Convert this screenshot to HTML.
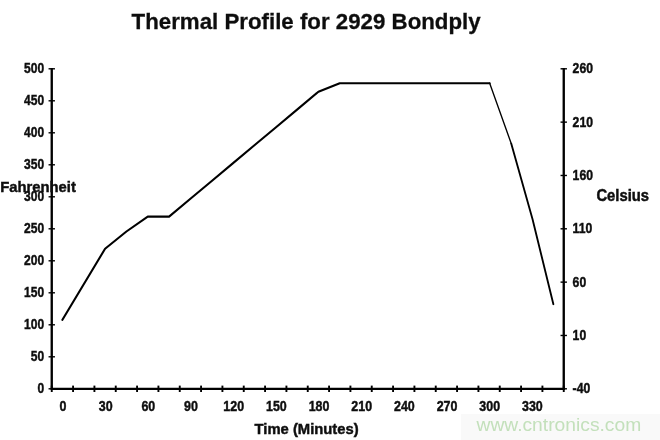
<!DOCTYPE html>
<html>
<head>
<meta charset="utf-8">
<title>Thermal Profile for 2929 Bondply</title>
<style>
html,body{margin:0;padding:0;background:#fff;}
body{width:660px;height:440px;overflow:hidden;position:relative;font-family:"Liberation Sans",sans-serif;}
svg{position:absolute;left:0;top:0;display:block;}
text{font-family:"Liberation Sans",sans-serif;fill:#111;}
.tick{font-size:12.2px;font-weight:bold;stroke:#111;stroke-width:0.4px;}
.ax{font-size:14.8px;font-weight:bold;stroke:#111;stroke-width:0.45px;}
.title{font-size:22.15px;font-weight:bold;stroke:#111;stroke-width:0.3px;}
.wm{font-size:19.25px;fill:#c3e0bb;}
</style>
</head>
<body>
<svg width="660" height="440" viewBox="0 0 660 440">
<defs><filter id="b" x="-5%" y="-5%" width="110%" height="110%"><feGaussianBlur stdDeviation="0.65"/></filter></defs>
<rect x="0" y="0" width="660" height="440" fill="#ffffff"/>
<rect x="461" y="414" width="199" height="26" fill="#f9f9f9"/>
<g filter="url(#b)">
<text class="title" transform="translate(131.60,29.30) scale(1.006,1.015)">Thermal Profile for 2929 Bondply</text>
<g stroke="#000" stroke-width="2.35" fill="none" stroke-linecap="butt">
<line x1="51.75" y1="68.10" x2="51.75" y2="389.80"/>
<line x1="563.75" y1="68.10" x2="563.75" y2="389.80"/>
<line x1="50.75" y1="388.80" x2="564.75" y2="388.80"/>
</g>
<g stroke="#000" stroke-width="1.4" fill="none">
<line x1="48.55" y1="388.80" x2="54.95" y2="388.80"/>
<line x1="48.55" y1="356.80" x2="54.95" y2="356.80"/>
<line x1="48.55" y1="324.80" x2="54.95" y2="324.80"/>
<line x1="48.55" y1="292.80" x2="54.95" y2="292.80"/>
<line x1="48.55" y1="260.80" x2="54.95" y2="260.80"/>
<line x1="48.55" y1="228.80" x2="54.95" y2="228.80"/>
<line x1="48.55" y1="196.80" x2="54.95" y2="196.80"/>
<line x1="48.55" y1="164.80" x2="54.95" y2="164.80"/>
<line x1="48.55" y1="132.80" x2="54.95" y2="132.80"/>
<line x1="48.55" y1="100.80" x2="54.95" y2="100.80"/>
<line x1="48.55" y1="68.80" x2="54.95" y2="68.80"/>
<line x1="560.55" y1="388.80" x2="566.95" y2="388.80"/>
<line x1="560.55" y1="335.47" x2="566.95" y2="335.47"/>
<line x1="560.55" y1="282.13" x2="566.95" y2="282.13"/>
<line x1="560.55" y1="228.80" x2="566.95" y2="228.80"/>
<line x1="560.55" y1="175.47" x2="566.95" y2="175.47"/>
<line x1="560.55" y1="122.13" x2="566.95" y2="122.13"/>
<line x1="560.55" y1="68.80" x2="566.95" y2="68.80"/>
</g>
<g stroke="#000" stroke-width="1.9" fill="none">
<line x1="51.75" y1="385.60" x2="51.75" y2="392.00"/>
<line x1="73.08" y1="385.60" x2="73.08" y2="392.00"/>
<line x1="94.42" y1="385.60" x2="94.42" y2="392.00"/>
<line x1="115.75" y1="385.60" x2="115.75" y2="392.00"/>
<line x1="137.08" y1="385.60" x2="137.08" y2="392.00"/>
<line x1="158.42" y1="385.60" x2="158.42" y2="392.00"/>
<line x1="179.75" y1="385.60" x2="179.75" y2="392.00"/>
<line x1="201.08" y1="385.60" x2="201.08" y2="392.00"/>
<line x1="222.42" y1="385.60" x2="222.42" y2="392.00"/>
<line x1="243.75" y1="385.60" x2="243.75" y2="392.00"/>
<line x1="265.08" y1="385.60" x2="265.08" y2="392.00"/>
<line x1="286.42" y1="385.60" x2="286.42" y2="392.00"/>
<line x1="307.75" y1="385.60" x2="307.75" y2="392.00"/>
<line x1="329.08" y1="385.60" x2="329.08" y2="392.00"/>
<line x1="350.42" y1="385.60" x2="350.42" y2="392.00"/>
<line x1="371.75" y1="385.60" x2="371.75" y2="392.00"/>
<line x1="393.08" y1="385.60" x2="393.08" y2="392.00"/>
<line x1="414.42" y1="385.60" x2="414.42" y2="392.00"/>
<line x1="435.75" y1="385.60" x2="435.75" y2="392.00"/>
<line x1="457.08" y1="385.60" x2="457.08" y2="392.00"/>
<line x1="478.42" y1="385.60" x2="478.42" y2="392.00"/>
<line x1="499.75" y1="385.60" x2="499.75" y2="392.00"/>
<line x1="521.08" y1="385.60" x2="521.08" y2="392.00"/>
<line x1="542.42" y1="385.60" x2="542.42" y2="392.00"/>
<line x1="563.75" y1="385.60" x2="563.75" y2="392.00"/>
</g>
<text class="tick" transform="translate(44.10,393.20) scale(0.985,1.130)" text-anchor="end">0</text>
<text class="tick" transform="translate(44.10,361.20) scale(0.985,1.130)" text-anchor="end">50</text>
<text class="tick" transform="translate(44.10,329.20) scale(0.985,1.130)" text-anchor="end">100</text>
<text class="tick" transform="translate(44.10,297.20) scale(0.985,1.130)" text-anchor="end">150</text>
<text class="tick" transform="translate(44.10,265.20) scale(0.985,1.130)" text-anchor="end">200</text>
<text class="tick" transform="translate(44.10,233.20) scale(0.985,1.130)" text-anchor="end">250</text>
<text class="tick" transform="translate(44.10,201.20) scale(0.985,1.130)" text-anchor="end">300</text>
<text class="tick" transform="translate(44.10,169.20) scale(0.985,1.130)" text-anchor="end">350</text>
<text class="tick" transform="translate(44.10,137.20) scale(0.985,1.130)" text-anchor="end">400</text>
<text class="tick" transform="translate(44.10,105.20) scale(0.985,1.130)" text-anchor="end">450</text>
<text class="tick" transform="translate(44.10,73.20) scale(0.985,1.130)" text-anchor="end">500</text>
<text class="tick" transform="translate(572.60,393.20) scale(1.000,1.130)">-40</text>
<text class="tick" transform="translate(572.60,339.87) scale(1.000,1.130)">10</text>
<text class="tick" transform="translate(572.60,286.53) scale(1.000,1.130)">60</text>
<text class="tick" transform="translate(572.60,233.20) scale(1.000,1.130)">110</text>
<text class="tick" transform="translate(572.60,179.87) scale(1.000,1.130)">160</text>
<text class="tick" transform="translate(572.60,126.53) scale(1.000,1.130)">210</text>
<text class="tick" transform="translate(572.60,73.20) scale(1.000,1.130)">260</text>
<text class="tick" transform="translate(63.02,411.30) scale(1.020,1.130)" text-anchor="middle">0</text>
<text class="tick" transform="translate(105.68,411.30) scale(1.020,1.130)" text-anchor="middle">30</text>
<text class="tick" transform="translate(148.35,411.30) scale(1.020,1.130)" text-anchor="middle">60</text>
<text class="tick" transform="translate(191.02,411.30) scale(1.020,1.130)" text-anchor="middle">90</text>
<text class="tick" transform="translate(233.68,411.30) scale(1.020,1.130)" text-anchor="middle">120</text>
<text class="tick" transform="translate(276.35,411.30) scale(1.020,1.130)" text-anchor="middle">150</text>
<text class="tick" transform="translate(319.02,411.30) scale(1.020,1.130)" text-anchor="middle">180</text>
<text class="tick" transform="translate(361.68,411.30) scale(1.020,1.130)" text-anchor="middle">210</text>
<text class="tick" transform="translate(404.35,411.30) scale(1.020,1.130)" text-anchor="middle">240</text>
<text class="tick" transform="translate(447.02,411.30) scale(1.020,1.130)" text-anchor="middle">270</text>
<text class="tick" transform="translate(489.68,411.30) scale(1.020,1.130)" text-anchor="middle">300</text>
<text class="tick" transform="translate(532.35,411.30) scale(1.020,1.130)" text-anchor="middle">330</text>
<text class="ax" transform="translate(0.30,192.40) scale(1.000,1.050)">Fahrenheit</text>
<text class="ax" transform="translate(596.40,201.00) scale(1.000,1.060)">Celsius</text>
<text class="ax" transform="translate(306.60,433.90) scale(1.000,1.050)" text-anchor="middle">Time (Minutes)</text>
<text class="wm" x="476.5" y="430.5">www.cntronics.com</text>
<polyline points="62.42,319.80 105.08,248.70 126.42,231.50 147.75,216.60 169.08,216.60 190.42,198.77 211.75,180.94 233.08,163.11 254.42,145.29 275.75,127.46 297.08,109.63 318.42,91.80 339.75,83.20 489.68,83.20" fill="none" stroke="#000" stroke-width="2.1" stroke-linejoin="round" stroke-linecap="round"/>
<polyline points="489.68,83.20 511.22,143.60" fill="none" stroke="#000" stroke-width="1.35" stroke-linejoin="round" stroke-linecap="round"/>
<polyline points="511.22,143.60 532.55,219.30 553.38,304.20" fill="none" stroke="#000" stroke-width="1.85" stroke-linejoin="round" stroke-linecap="round"/>
</g>
</svg>
</body>
</html>
